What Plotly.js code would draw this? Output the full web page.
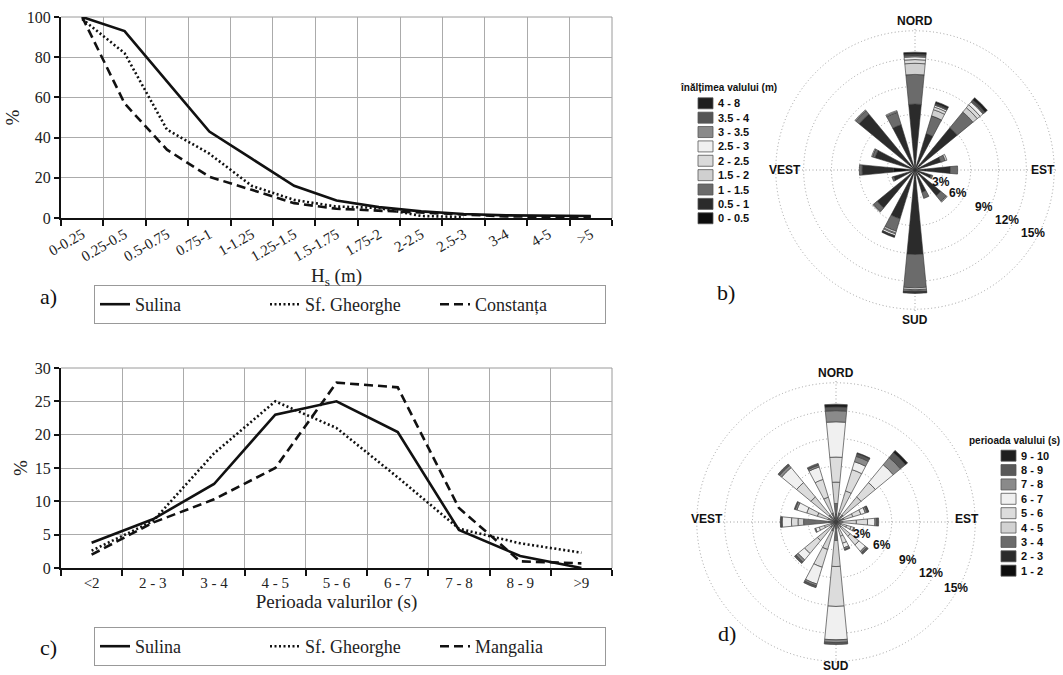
<!DOCTYPE html>
<html><head><meta charset="utf-8">
<script src="https://cdn.plot.ly/plotly-3.0.1.min.js"></script>
<style>html,body{margin:0;padding:0;background:#fff}#chart{width:1063px;height:675px}</style>
</head><body><div id="chart"></div>
<script>
// ---------- Panel a: cumulative wave height (%) ----------
const hsCats = ['0-0.25','0.25-0.5','0.5-0.75','0.75-1','1-1.25','1.25-1.5','1.5-1.75','1.75-2','2-2.5','2.5-3','3-4','4-5','>5'];
const hsSulina = [100,93,68,43,29.5,16,8.7,5.4,3.3,2,1.3,1,1];
const hsSfGheorghe = [99,82,44,32,16,9,5.7,5,1,0.5,null,null,null];
const hsConstanta = [100,57,34,20.5,14,7.4,4.6,3.6,2.5,1.5,0.8,0.6,0.5];

// ---------- Panel c: wave period distribution (%) ----------
const tpCats = ['<2','2 - 3','3 - 4','4 - 5','5 - 6','6 - 7','7 - 8','8 - 9','>9'];
const tpSulina = [3.8,7.3,12.6,23,25,20.4,5.7,1.8,0];
const tpSfGheorghe = [2.6,7,17.2,25,21,13.6,5.9,3.7,2.3];
const tpMangalia = [2,6.8,10.3,15,27.8,27.1,9,1,0.7];

// ---------- Roses: 16 directions (degrees from north, clockwise) ----------
const dirDeg = [0,22.5,45,67.5,90,112.5,135,157.5,180,202.5,225,247.5,270,292.5,315,337.5];
const compassVals = [0,90,180,270];
const compassText = ['NORD','EST','SUD','VEST'];
const ringVals = [3,6,9,12,15];
const ringText = ['3%','6%','9%','12%','15%'];

// Panel b: wave height classes (m), % per direction
const heightBins = ['0 - 0.5','0.5 - 1','1 - 1.5','1.5 - 2','2 - 2.5','2.5 - 3','3 - 3.5','3.5 - 4','4 - 8'];
const heightColors = ['#0d0d0d','#2b2b2b','#6b6b6b','#d0d0d0','#dadada','#f0f0f0','#8a8a8a','#555555','#1e1e1e'];
const h_0_05 = [1.0,0.8,0.8,0.5,1.2,0.5,0.6,0.6,1.0,0.8,0.7,0.6,2.3,0.8,1.0,0.8];
const h_05_1 = [6.1,3.3,5.1,2.4,2.6,1.3,3.0,1.9,8.1,4.7,4.6,1.8,3.4,3.7,6.8,4.3];
const h_1_15 = [3.2,2.0,2.2,0.5,0.8,0.2,0.8,0.7,3.6,1.4,0.5,0.2,0.3,0.3,0.5,1.4];
const h_15_2 = [1.2,0.7,0.6,0.2,0,0,0.1,0,0.2,0.2,0.1,0,0,0.1,0.1,0.1];
const h_2_25 = [0.4,0.3,0.4,0,0,0,0,0,0.1,0.1,0,0,0,0,0,0.1];
const h_25_3 = [0.3,0.2,0.4,0,0,0,0,0,0.1,0.2,0,0,0,0,0,0];
const h_3_35 = [0.15,0.1,0.1,0,0,0,0,0,0.05,0.05,0,0,0,0,0,0];
const h_35_4 = [0.15,0.1,0.2,0,0,0,0,0,0.05,0.05,0,0,0,0,0,0];
const h_4_8 = [0.2,0.2,0.3,0,0,0,0,0,0.1,0.1,0,0,0,0,0,0];
const heightSeries = [h_0_05,h_05_1,h_1_15,h_15_2,h_2_25,h_25_3,h_3_35,h_35_4,h_4_8];

// Panel d: wave period classes (s), % per direction
const periodBins = ['1 - 2','2 - 3','3 - 4','4 - 5','5 - 6','6 - 7','7 - 8','8 - 9','9 - 10'];
const periodColors = ['#0d0d0d','#2b2b2b','#6b6b6b','#d2d2d2','#dcdcdc','#f0f0f0','#8a8a8a','#595959','#1e1e1e'];
const p_1_2 = [0.4,0.2,0.2,0.2,0.2,0.2,0.2,0.2,0.3,0.2,0.2,0.2,0.3,0.2,0.2,0.2];
const p_2_3 = [0.5,0.3,0.3,0.3,0.2,0.2,0.2,0.2,0.4,0.3,0.2,0.2,0.5,0.2,0.3,0.3];
const p_3_4 = [1.1,0.5,0.5,0.4,0.3,0.2,0.3,0.3,1.3,0.5,0.4,0.2,2.7,0.5,0.5,0.5];
const p_4_5 = [2.3,2.5,2.5,1.0,1.5,0.6,1.3,0.9,2.8,2.1,1.8,0.7,0.6,1.2,2.5,1.8];
const p_5_6 = [2.7,2.4,2.0,0.9,1.2,0.5,1.2,0.8,4.3,2.0,1.8,0.6,0.7,1.2,2.0,2.0];
const p_6_7 = [3.8,0.9,2.5,0.5,0.8,0.3,0.9,0.5,3.6,1.9,0.9,0.4,1.0,1.1,2.1,1.4];
const p_7_8 = [1.2,0.6,1.0,0.2,0.2,0.1,0.2,0.2,0.3,0.2,0.3,0.1,0.1,0.2,0.3,0.2];
const p_8_9 = [0.4,0.3,0.7,0.15,0.2,0,0.2,0.1,0.2,0.2,0.2,0,0.1,0.1,0.2,0.2];
const p_9_10 = [0.3,0.1,0.3,0.05,0,0,0,0,0,0,0,0,0,0,0,0];
const periodSeries = [p_1_2,p_2_3,p_3_4,p_4_5,p_5_6,p_6_7,p_7_8,p_8_9,p_9_10];

// ---------- helpers ----------
const W = 1063, H = 675;
const px = v => v / W, py = v => 1 - v / H;
const serif = 'Liberation Serif, DejaVu Serif, serif';
const sans = 'Liberation Sans, Arial, sans-serif';
const nz = arr => arr.map(v => v === 0 ? null : v);

const traces = [];
const lineStyles = [
  {dash:'solid', width:2.6},
  {dash:'2px,2.5px', width:2.6},
  {dash:'9px,5px', width:2.6}
];
[[hsSulina,'Sulina'],[hsSfGheorghe,'Sf. Gheorghe'],[hsConstanta,'Constanța']].forEach((s,i)=>{
  traces.push({type:'scatter', mode:'lines', x:hsCats, y:s[0], name:s[1], xaxis:'x', yaxis:'y',
    line:{color:'#111', width:lineStyles[i].width, dash:lineStyles[i].dash}, legend:'legend', connectgaps:false});
});
[[tpSulina,'Sulina'],[tpSfGheorghe,'Sf. Gheorghe'],[tpMangalia,'Mangalia']].forEach((s,i)=>{
  traces.push({type:'scatter', mode:'lines', x:tpCats, y:s[0], name:s[1], xaxis:'x2', yaxis:'y2',
    line:{color:'#111', width:lineStyles[i].width, dash:lineStyles[i].dash}, legend:'legend2'});
});
heightSeries.forEach((r,i)=>{
  traces.push({type:'barpolar', subplot:'polar', r:nz(r), theta:dirDeg, width:11, name:heightBins[i],
    marker:{color:heightColors[i], line:{color:'#333', width:0.6}}, showlegend:false});
});
periodSeries.forEach((r,i)=>{
  traces.push({type:'barpolar', subplot:'polar2', r:nz(r), theta:dirDeg, width:11, name:periodBins[i],
    marker:{color:periodColors[i], line:{color:'#444', width:0.7}}, showlegend:false});
});

// manual legends for the roses
const shapes = [];
const annotations = [];
function roseLegend(title, bins, colors, tx, ty, sx, firstRowY, step){
  annotations.push({xref:'paper', yref:'paper', x:px(tx), y:py(ty), xanchor:'left', yanchor:'middle', showarrow:false,
    text:title, font:{family:sans, size:10, color:'#111', weight:'bold'}});
  for(let k=0;k<bins.length;k++){
    const idx = bins.length-1-k;
    const cy = firstRowY + k*step;
    shapes.push({type:'rect', xref:'paper', yref:'paper', x0:px(sx), x1:px(sx+15), y0:py(cy+5.5), y1:py(cy-5.5),
      fillcolor:colors[idx], line:{color:'#555', width:0.8}});
    annotations.push({xref:'paper', yref:'paper', x:px(sx+18), y:py(cy), xanchor:'left', yanchor:'middle', showarrow:false,
      text:bins[idx], font:{family:sans, size:11, color:'#111', weight:'bold'}});
  }
}
roseLegend('înălțimea valului (m)', heightBins, heightColors, 678, 88, 698, 103.3, 14.37);
roseLegend('perioada valului (s)', periodBins, periodColors, 967, 440, 1001, 455.7, 14.37);

// compass + ring labels of the roses (centre-relative positions in px)
function roseLabels(cx, cy, cpos, rpos){
  compassText.forEach((t,i)=>{
    annotations.push({xref:'paper', yref:'paper', x:px(cx+cpos[i][0]), y:py(cy+cpos[i][1]), xanchor:'center', yanchor:'middle',
      showarrow:false, text:t, font:{family:sans, size:12, color:'#111', weight:'bold'}});
  });
  ringText.forEach((t,i)=>{
    annotations.push({xref:'paper', yref:'paper', x:px(cx+rpos[i][0]), y:py(cy+rpos[i][1]), xanchor:'center', yanchor:'middle',
      showarrow:false, text:t, font:{family:sans, size:12, color:'#111', weight:'bold'}});
  });
}
roseLabels(915, 170, [[0,-149],[128,0],[0,150],[-130,0]],
  [[26,12],[43,23],[69,37],[92,50],[118,63]]);
roseLabels(836, 522, [[0,-149],[131,-3],[0,144],[-129,-3]],
  [[26,12],[46,23],[72,38],[95,51],[120,66]]);

// plot borders (top/right) for the line charts
['x','x2'].forEach((xa,i)=>{
  const ya = i===0?'y':'y2';
  shapes.push({type:'line', xref:xa+' domain', yref:ya+' domain', x0:0, x1:1, y0:1, y1:1, line:{color:'#9a9a9a', width:1}, layer:'below'});
  shapes.push({type:'line', xref:xa+' domain', yref:ya+' domain', x0:1, x1:1, y0:0, y1:1, line:{color:'#9a9a9a', width:1}, layer:'below'});
});

// panel letters
[['a)',48,297],['b)',726,292],['c)',48,647],['d)',727,633]].forEach(a=>{
  annotations.push({xref:'paper', yref:'paper', x:px(a[1]), y:py(a[2]), xanchor:'center', yanchor:'middle', showarrow:false,
    text:a[0], font:{family:serif, size:22, color:'#111'}});
});

const catAxis = (domain, anchor, titleText, tickangle, n) => ({
  domain:domain, anchor:anchor, type:'category', tickson:'boundaries', range:[-0.5, n-0.5],
  showgrid:true, gridcolor:'#ababab', gridwidth:1,
  showline:true, linecolor:'#111', linewidth:2, ticks:'outside', ticklen:6, tickwidth:2, tickcolor:'#111',
  tickangle:tickangle, tickfont:{family:serif, size:15, color:'#222'}, zeroline:false,
  title:{text:titleText, font:{family:serif, size:19, color:'#222'}, standoff:4}
});
const valAxis = (domain, anchor, range, dtick) => ({
  domain:domain, anchor:anchor, range:range, dtick:dtick, showgrid:true, gridcolor:'#ababab', gridwidth:1,
  showline:true, linecolor:'#111', linewidth:2, ticks:'outside', ticklen:5, tickwidth:2, tickcolor:'#111',
  tickfont:{family:serif, size:16, color:'#222'}, zeroline:false,
  title:{text:'%', font:{family:serif, size:19, color:'#222'}, standoff:2}
});

const polarCommon = (domain) => ({
  domain:domain, bgcolor:'rgba(0,0,0,0)', barmode:'stack', bargap:0, hole:0,
  radialaxis:{range:[0,15.3], tickmode:'array', tickvals:ringVals, ticktext:ringText, showticklabels:false,
    showline:false, ticks:'', angle:-28, gridcolor:'#a0a0a0', griddash:'1px,2.5px', gridwidth:1},
  angularaxis:{rotation:90, direction:'clockwise', tickmode:'array', tickvals:compassVals,
    ticktext:compassText, showticklabels:false, showline:false, ticks:'', gridcolor:'#a0a0a0', griddash:'1px,2.5px', gridwidth:1}
});

const layout = {
  width:W, height:H, margin:{l:0,r:0,t:0,b:0}, paper_bgcolor:'#fff', plot_bgcolor:'#fff',
  font:{family:serif, color:'#222'}, showlegend:true,
  xaxis: catAxis([px(61),px(612)], 'y', 'H<sub>s</sub> (m)', -30, hsCats.length),
  yaxis: valAxis([py(218),py(17)], 'x', [0,100], 20),
  xaxis2: catAxis([px(61),px(612)], 'y2', 'Perioada valurilor (s)', 0, tpCats.length),
  yaxis2: valAxis([py(568),py(368)], 'x2', [0,30], 5),
  polar: polarCommon({x:[px(773),px(1057)], y:[py(312),py(28)]}),
  polar2: polarCommon({x:[px(694),px(978)], y:[py(664),py(380)]}),
  legend:{x:px(94), y:py(285), xanchor:'left', yanchor:'top', orientation:'h', bordercolor:'#999', borderwidth:1,
    bgcolor:'#fff', font:{family:serif, size:18, color:'#222'}, entrywidth:125, entrywidthmode:'pixels'},
  legend2:{x:px(94), y:py(627), xanchor:'left', yanchor:'top', orientation:'h', bordercolor:'#999', borderwidth:1,
    bgcolor:'#fff', font:{family:serif, size:18, color:'#222'}, entrywidth:125, entrywidthmode:'pixels'},
  shapes:shapes, annotations:annotations
};

Plotly.newPlot('chart', traces, layout, {displayModeBar:false, staticPlot:true});
</script>
</body></html>
